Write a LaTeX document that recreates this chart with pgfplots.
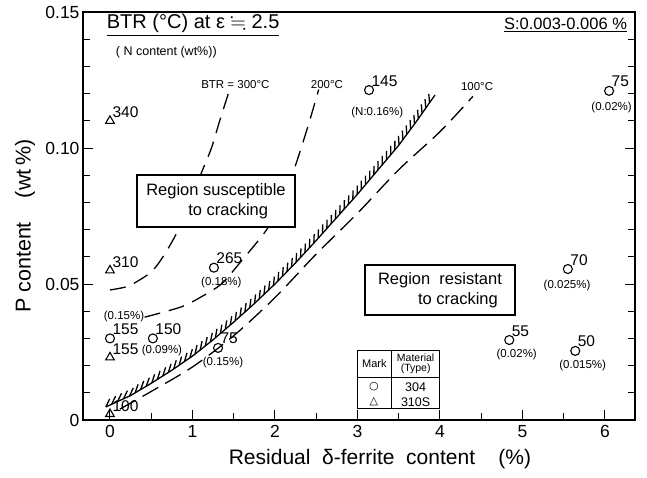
\documentclass[border=0pt]{standalone}
\usepackage{amssymb}
\usepackage{fontspec}
\setmainfont{Liberation Sans}
\newfontfamily\symf{DejaVu Sans}
\usepackage{pgfplots}
\pgfplotsset{compat=1.18}
\usetikzlibrary{decorations.pathreplacing}
\newcommand\numf{\fontsize{15.5}{17}\selectfont}
\newcommand\smf{\fontsize{11.5}{12}\selectfont}
\newcommand\curvf{\fontsize{11.5}{12}\selectfont}
\newcommand\regf{\fontsize{16.5}{20}\selectfont}
\begin{document}
\begin{tikzpicture}
\begin{axis}[
  scale only axis, width=552pt, height=408pt,
  xmin=-0.327, xmax=6.364, ymin=0, ymax=0.15,
  xtick={0,1,2,3,4,5,6},
  minor xtick={0.5,1.5,2.5,3.5,4.5,5.5},
  ytick={0,0.05,0.1,0.15}, yticklabels={0,0.05,0.10,0.15},
  minor ytick={0.01,0.02,0.03,0.04,0.06,0.07,0.08,0.09,0.11,0.12,0.13,0.14},
  tick align=inside, xtick pos=left, ytick pos=both,
  major tick length=10pt, minor tick length=7pt,
  every tick/.style={black, line width=1pt},
  axis line style={line width=1.5pt},
  tick label style={font=\fontsize{17.5}{19}\selectfont},
  xticklabel style={yshift=-2pt},
  /pgf/number format/assume math mode=true,
  xlabel={Residual\ \ δ-ferrite\ \ content\ \ \ \ (\%)},
  ylabel={P\ content\hspace{24pt}(wt\,\%)},
  xlabel style={font=\fontsize{21}{23}\selectfont, at={(axis description cs:0.538,-0.096)}, anchor=center},
  ylabel style={font=\fontsize{21.5}{23}\selectfont, at={(axis description cs:-0.105,0.475)}, anchor=center},
  clip=false,
]
% BTR = 300 C
\addplot[smooth, line width=1.3pt, dash pattern=on 16pt off 9pt] coordinates {
 (0,0.0478) (0.2,0.049) (0.36,0.0515) (0.52,0.055) (0.67,0.0613) (0.83,0.070) (0.97,0.080) (1.11,0.091) (1.23,0.100) (1.33,0.110) (1.44,0.1205)};
% 200 C
\addplot[smooth, line width=1.3pt, dash pattern=on 16pt off 9pt] coordinates {
 (0.42,0.0378) (0.69,0.040) (0.9,0.042) (1.09,0.045) (1.35,0.050) (1.58,0.058) (1.9,0.070) (2.08,0.080) (2.22,0.091) (2.40,0.108) (2.53,0.1215)};
% boundary (hatched)
\addplot[line width=1.3pt, postaction={decorate, decoration={border, segment length=6.5pt, amplitude=9pt, angle=40}}] coordinates {
 (-0.05,0.0048) (0.25,0.0090) (0.5,0.0135) (0.75,0.0183) (1.0,0.0235) (1.25,0.0295) (1.5,0.036) (1.75,0.0428) (2.0,0.050) (2.25,0.0578) (2.5,0.066) (2.75,0.0745) (3.0,0.083) (3.25,0.092) (3.5,0.101) (3.72,0.110) (3.94,0.1195)};
% 100 C
\addplot[smooth, line width=1.3pt, dash pattern=on 18pt off 8pt] coordinates {
 (0.12,0.004) (0.5,0.0105) (1.0,0.0195) (1.5,0.031) (2.0,0.045) (2.5,0.061) (3.0,0.076) (3.5,0.092) (4.0,0.106) (4.4,0.119)};

% region boxes
\node[draw, fill=white, line width=1.2pt, minimum width=158pt, minimum height=52pt, align=left, font=\regf, inner sep=3pt] at (axis cs:1.285,0.0805) {Region\ susceptible\\\hspace*{42pt}to\ cracking};
\node[draw, fill=white, line width=1.2pt, minimum width=150pt, minimum height=50pt, align=left, font=\regf, inner sep=3pt] at (axis cs:4.0,0.0478) {Region\ \ resistant\\\hspace*{40pt}to\ cracking};

% type 304
\addplot[only marks, mark=o, mark size=4.5pt, line width=1.1pt, point meta=explicit symbolic, nodes near coords,
  every node near coord/.append style={anchor=base west, xshift=2pt, yshift=4pt, inner sep=0pt, font=\numf}]
 table[meta=lab] {
x y lab
0 0.030 155
0.52 0.030 150
1.26 0.056 265
1.31 0.0265 75
3.14 0.1213 145
6.05 0.121 75
5.55 0.0555 70
4.84 0.0294 55
5.64 0.0254 50
};
% type 310S
\addplot[only marks, mark=triangle, mark size=5pt, line width=1.1pt, point meta=explicit symbolic, nodes near coords,
  every node near coord/.append style={anchor=base west, xshift=2pt, yshift=3pt, inner sep=0pt, font=\numf}]
 table[meta=lab] {
x y lab
0 0.110 340
0 0.055 310
0 0.023 155
0 0.0022 100
};

% N content labels
\node[font=\smf] at (axis cs:3.24,0.1132) {(N:0.16\%)};
\node[font=\smf] at (axis cs:6.08,0.1147) {(0.02\%)};
\node[font=\smf] at (axis cs:1.35,0.0507) {(0.18\%)};
\node[font=\smf] at (axis cs:0.17,0.0379) {(0.15\%)};
\node[font=\smf] at (axis cs:0.63,0.0254) {(0.09\%)};
\node[font=\smf] at (axis cs:1.37,0.0213) {(0.15\%)};
\node[font=\smf] at (axis cs:5.54,0.0496) {(0.025\%)};
\node[font=\smf] at (axis cs:4.93,0.0239) {(0.02\%)};
\node[font=\smf] at (axis cs:5.73,0.0202) {(0.015\%)};

% curve labels
\node[font=\curvf] at (axis cs:1.52,0.1235) {BTR = 300°C};
\node[font=\curvf] at (axis cs:2.63,0.1235) {200°C};
\node[font=\curvf] at (axis cs:4.45,0.1225) {100°C};

% titles
\node[anchor=west, font=\fontsize{20}{22}\selectfont] at (axis cs:-0.08,0.1452) {\underline{BTR (°C) at ε $\fallingdotseq$ 2.5}};
\node[anchor=west, font=\fontsize{12.5}{14}\selectfont] at (axis cs:0.03,0.1353) {( N content (wt\%))};
\node[anchor=east, font=\fontsize{16.5}{18}\selectfont] at (axis cs:6.31,0.1452) {\underline{S:0.003-0.006 \%}};

% mark table
\draw[line width=1pt] (axis cs:3.0,0.0044) rectangle (axis cs:4.0,0.0257);
\draw[line width=1pt] (axis cs:3.41,0.0044) -- (axis cs:3.41,0.0257);
\draw[line width=1pt] (axis cs:3.0,0.0158) -- (axis cs:4.0,0.0158);
\node[font=\fontsize{11}{12}\selectfont, inner sep=0pt] at (axis cs:3.205,0.0208) {Mark};
\node[font=\fontsize{10.5}{10}\selectfont, align=center, inner sep=0pt] at (axis cs:3.705,0.0208) {Material\\(Type)};
\node[font=\symf\fontsize{11}{12}\selectfont] at (axis cs:3.2,0.0121) {○};
\node[font=\symf\fontsize{11}{12}\selectfont] at (axis cs:3.2,0.0066) {△};
\node[font=\fontsize{12.5}{13}\selectfont] at (axis cs:3.705,0.0121) {304};
\node[font=\fontsize{12.5}{13}\selectfont] at (axis cs:3.705,0.0066) {310S};
\end{axis}
\pgfresetboundingbox
\path[use as bounding box] ([shift={(-83pt,-57pt)}]current axis.south west) rectangle ([shift={(12pt,12pt)}]current axis.north east);
\end{tikzpicture}
\end{document}
